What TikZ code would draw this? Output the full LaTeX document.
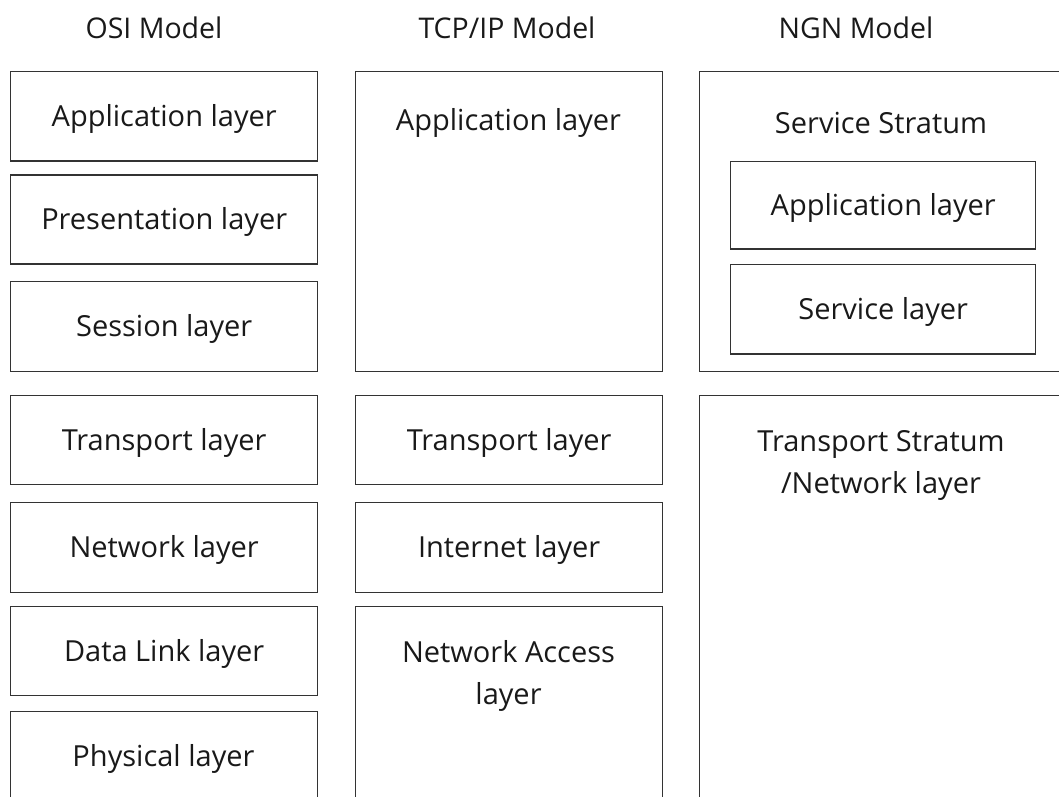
\documentclass[tikz,border=0pt]{standalone}
\usepackage{fontspec}
\setmainfont{Open Sans}
\begin{document}
\begin{tikzpicture}[x=1pt,y=-1pt,
  box/.style={draw=black!80, line width=1.4pt, anchor=north west, inner sep=0pt, text=black!90, font=\fontsize{29}{35}\selectfont, text height=22pt, text depth=2pt},
  lbl/.style={text=black!90, font=\fontsize{29}{35}\selectfont, inner sep=0pt, align=center},
  ttl/.style={text=black!90, font=\fontsize{28.5}{34}\selectfont, inner sep=0pt}]
\useasboundingbox (0,0) rectangle (1059,796);
\clip (0,0) rectangle (1059,796);
% titles
\node[ttl] (tosi) at (154,28) {OSI Model};
\node[ttl] (ttcp) at (507,28) {TCP/IP Model};
\node[ttl] (tngn) at (856,28) {NGN Model};
% OSI column
\node[box, minimum width=307pt, minimum height=89.5pt] (oapp) at (10,70.7) {Application layer};
\node[box, minimum width=307pt, minimum height=89pt] (opres) at (10,174.3) {Presentation layer};
\node[box, minimum width=307pt, minimum height=89.7pt] (osess) at (10,281) {Session layer};
\node[box, minimum width=307pt, minimum height=89pt] (otrans) at (10,395) {Transport layer};
\node[box, minimum width=307pt, minimum height=90pt] (onet) at (10,502) {Network layer};
\node[box, minimum width=307pt, minimum height=89pt] (odl) at (10,606) {Data Link layer};
\node[box, minimum width=307pt, minimum height=100pt] (ophy) at (10,711) {};
\node[lbl] (ophyt) at (163.5,759) {Physical layer};
% TCP/IP column
\node[box, minimum width=307pt, minimum height=300pt] (tapp) at (355,70.7) {};
\node[lbl] (tappt) at (508.5,123) {Application layer};
\node[box, minimum width=307pt, minimum height=89pt] (ttrans) at (355,395) {Transport layer};
\node[box, minimum width=307pt, minimum height=90pt] (tint) at (355,502) {Internet layer};
\node[box, minimum width=307pt, minimum height=210pt] (tna) at (355,606) {};
\node[lbl] (tnat) at (508.5,676) {Network Access\\[7pt]layer};
% NGN column
\node[box, minimum width=380pt, minimum height=300pt] (nserv) at (698.5,70.7) {};
\node[lbl] (nservt) at (881,123) {Service Stratum};
\node[box, minimum width=305pt, minimum height=87.6pt] (napp) at (730,160.7) {Application layer};
\node[box, minimum width=305pt, minimum height=89.3pt] (nsl) at (730,264) {Service layer};
\node[box, minimum width=380pt, minimum height=420pt] (ntrans) at (698.5,395) {};
\node[lbl] (ntranst) at (881,465) {Transport Stratum\\[7pt]/Network layer};
\end{tikzpicture}
\end{document}
